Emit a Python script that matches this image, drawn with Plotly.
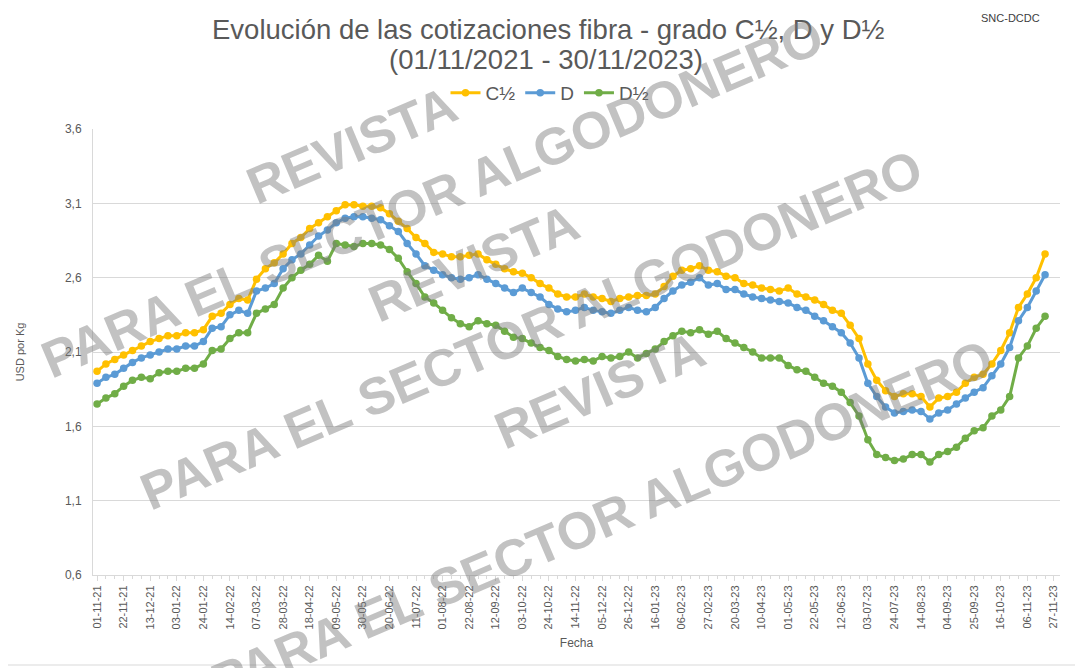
import pandas as pd
import plotly.graph_objects as go

# ---- data ----
dates = pd.date_range("2021-11-01", periods=108, freq="7D")

c_half = [1.97, 2.02, 2.05, 2.08, 2.11, 2.14, 2.17, 2.19, 2.21, 2.21,
          2.23, 2.23, 2.25, 2.34, 2.36, 2.42, 2.46, 2.45, 2.59, 2.66,
          2.70, 2.76, 2.83, 2.87, 2.93, 2.97, 3.01, 3.05, 3.09, 3.09,
          3.08, 3.08, 3.07, 3.03, 2.98, 2.93, 2.87, 2.83, 2.77, 2.76,
          2.74, 2.74, 2.75, 2.76, 2.72, 2.69, 2.66, 2.64, 2.63, 2.60,
          2.56, 2.53, 2.49, 2.47, 2.47, 2.49, 2.47, 2.46, 2.44, 2.46,
          2.47, 2.48, 2.48, 2.49, 2.54, 2.61, 2.65, 2.66, 2.68, 2.65,
          2.64, 2.61, 2.60, 2.56, 2.55, 2.53, 2.52, 2.51, 2.53, 2.49,
          2.47, 2.45, 2.42, 2.38, 2.36, 2.28, 2.19, 2.02, 1.91, 1.84,
          1.80, 1.82, 1.82, 1.80, 1.73, 1.79, 1.80, 1.83, 1.89, 1.93,
          1.95, 2.02, 2.11, 2.23, 2.40, 2.49, 2.60, 2.76]

d = [1.89, 1.93, 1.95, 1.99, 2.03, 2.06, 2.08, 2.10, 2.12, 2.12,
     2.14, 2.14, 2.17, 2.26, 2.27, 2.35, 2.38, 2.36, 2.51, 2.53,
     2.56, 2.66, 2.72, 2.76, 2.82, 2.88, 2.92, 2.97, 3.00, 3.01,
     3.01, 3.00, 2.99, 2.95, 2.91, 2.83, 2.76, 2.68, 2.65, 2.62,
     2.60, 2.59, 2.60, 2.62, 2.59, 2.56, 2.53, 2.50, 2.53, 2.50,
     2.47, 2.42, 2.39, 2.37, 2.38, 2.40, 2.38, 2.37, 2.36, 2.38,
     2.40, 2.38, 2.37, 2.40, 2.46, 2.51, 2.55, 2.57, 2.60, 2.55,
     2.56, 2.52, 2.52, 2.49, 2.47, 2.46, 2.45, 2.44, 2.43, 2.40,
     2.38, 2.34, 2.31, 2.27, 2.23, 2.16, 2.06, 1.89, 1.80, 1.73,
     1.69, 1.70, 1.71, 1.70, 1.65, 1.69, 1.71, 1.75, 1.79, 1.83,
     1.86, 1.94, 2.02, 2.13, 2.31, 2.40, 2.51, 2.62]

d_half = [1.75, 1.79, 1.82, 1.87, 1.91, 1.93, 1.92, 1.96, 1.97, 1.97,
          1.99, 1.99, 2.02, 2.11, 2.12, 2.19, 2.23, 2.23, 2.36, 2.39,
          2.42, 2.53, 2.60, 2.65, 2.69, 2.75, 2.71, 2.83, 2.82, 2.81,
          2.83, 2.83, 2.82, 2.79, 2.73, 2.64, 2.56, 2.47, 2.43, 2.38,
          2.33, 2.29, 2.27, 2.31, 2.29, 2.28, 2.24, 2.20, 2.19, 2.16,
          2.13, 2.11, 2.07, 2.05, 2.04, 2.05, 2.04, 2.07, 2.06, 2.07,
          2.10, 2.06, 2.09, 2.12, 2.17, 2.21, 2.24, 2.23, 2.25, 2.22,
          2.24, 2.19, 2.16, 2.13, 2.10, 2.06, 2.06, 2.06, 2.01, 1.98,
          1.97, 1.93, 1.89, 1.87, 1.83, 1.76, 1.67, 1.51, 1.41, 1.39,
          1.37, 1.38, 1.41, 1.41, 1.36, 1.41, 1.43, 1.46, 1.52, 1.57,
          1.59, 1.67, 1.71, 1.80, 2.06, 2.14, 2.26, 2.34]

series_names = ["C½", "D", "D½"]
series_colors = ["#FFC000", "#5B9BD5", "#70AD47"]
y_ticks = [0.6, 1.1, 1.6, 2.1, 2.6, 3.1, 3.6]
y_tick_labels = ["0,6", "1,1", "1,6", "2,1", "2,6", "3,1", "3,6"]

title_line1 = "Evolución de las cotizaciones fibra - grado C½, D y D½"
title_line2 = "(01/11/2021 - 30/11/2023)"

# ---- figure geometry (screen pixels; page body has an 8px margin) ----
OFF = 8
W, H = 1083 - OFF, 668 - OFF
PL, PR, PT, PB = 93, 1060, 129, 575


def px(x):
    return (x - PL) / (PR - PL)


def py(y):
    return (PB - y) / (PB - PT)


fig = go.Figure()
for name, vals, col in zip(series_names, [c_half, d, d_half], series_colors):
    fig.add_trace(go.Scatter(
        x=dates, y=vals, name=name, mode="lines+markers",
        line=dict(color=col, width=3),
        marker=dict(color=col, size=7.5),
    ))

DAY = 86400000
x0 = pd.Timestamp("2021-11-01") - pd.Timedelta(days=3.2)
x1 = x0 + pd.Timedelta(days=(PR - PL) / (8.86 / 7))

grey = "#595959"
fig.update_layout(
    width=W, height=H,
    margin=dict(l=PL - OFF, r=1083 - PR, t=PT - OFF, b=668 - PB),
    paper_bgcolor="white", plot_bgcolor="white",
    font=dict(family="Liberation Sans, Arial, sans-serif", color=grey),
    showlegend=True,
    legend=dict(orientation="h", x=px(550), xanchor="center", y=py(93), yanchor="middle",
                font=dict(size=19, color=grey), itemwidth=30, traceorder="normal",
                bgcolor="rgba(0,0,0,0)"),
    xaxis=dict(
        type="date", range=[x0, x1],
        tick0="2021-11-01", dtick=21 * DAY, tickformat="%d-%m-%y",
        tickangle=-90, tickfont=dict(size=11, color=grey),
        showgrid=False, showline=True, linecolor="#d9d9d9", linewidth=1,
        ticks="outside", ticklen=5, tickcolor="#d9d9d9",
        minor=dict(dtick=7 * DAY, tick0="2021-11-01", ticks="outside", ticklen=3,
                   tickcolor="#d9d9d9", showgrid=False),
        title=dict(text="Fecha", font=dict(size=12, color=grey), standoff=10),
        zeroline=False,
    ),
    yaxis=dict(
        range=[0.6, 3.6], tickvals=y_ticks, ticktext=y_tick_labels,
        tickfont=dict(size=12, color=grey), ticklabelstandoff=8,
        showgrid=True, gridcolor="#d9d9d9", gridwidth=1,
        showline=True, linecolor="#d9d9d9", linewidth=1,
        ticks="", zeroline=False,
        title=dict(text="USD por Kg", font=dict(size=11, color=grey), standoff=38),
    ),
)

# titles
fig.add_annotation(text=title_line1, xref="paper", yref="paper", x=px(548), y=py(30),
                   showarrow=False, font=dict(size=27.5, color=grey), xanchor="center", yanchor="middle")
fig.add_annotation(text=title_line2, xref="paper", yref="paper", x=px(546), y=py(59),
                   showarrow=False, font=dict(size=27.5, color=grey), xanchor="center", yanchor="middle")
fig.add_annotation(text="SNC-DCDC", xref="paper", yref="paper", x=px(1010), y=py(18),
                   showarrow=False, font=dict(size=11, color="#404040"), xanchor="center", yanchor="middle")

# watermark
wm_col = "rgba(120,120,120,0.45)"
wm = [
    ("REVISTA", 352, 145),
    ("PARA EL SECTOR ALGODONERO", 432, 198),
    ("REVISTA", 474, 263),
    ("PARA EL SECTOR ALGODONERO", 531, 330),
    ("REVISTA", 600, 390),
    ("PARA EL SECTOR ALGODONERO", 602, 520),
]
for txt, cx, cy in wm:
    fig.add_annotation(text="<b>" + txt + "</b>", xref="paper", yref="paper", x=px(cx), y=py(cy),
                       showarrow=False, textangle=-23,
                       font=dict(size=52, color=wm_col, family="Liberation Sans, Arial, sans-serif"),
                       xanchor="center", yanchor="middle")

# outer frame
fig.add_shape(type="rect", xref="paper", yref="paper", x0=px(4), x1=px(1078), y0=py(665), y1=py(7),
              line=dict(color="#d9d9d9", width=1), fillcolor="rgba(0,0,0,0)", layer="below")

fig.write_html("out.html")
